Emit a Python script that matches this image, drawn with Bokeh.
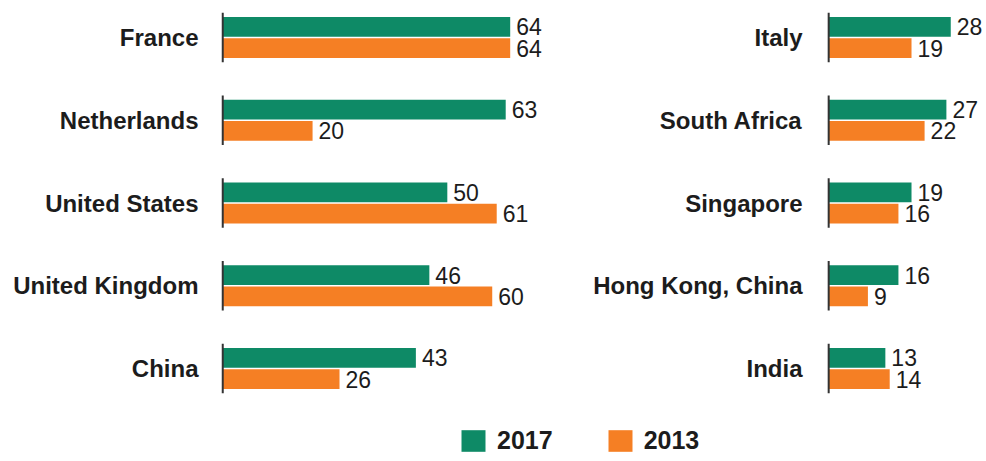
from bokeh.plotting import figure
from bokeh.models import ColumnDataSource, FactorRange, Range1d, Legend, LegendItem
from bokeh.core.properties import value
from bokeh.transform import dodge
from bokeh.layouts import column, row
from bokeh.embed import file_html
from bokeh.resources import INLINE

# ---- data ----
left_countries = ["France", "Netherlands", "United States", "United Kingdom", "China"]
left_2017 = [64, 63, 50, 46, 43]
left_2013 = [64, 20, 61, 60, 26]

right_countries = ["Italy", "South Africa", "Singapore", "Hong Kong, China", "India"]
right_2017 = [28, 27, 19, 16, 13]
right_2013 = [19, 22, 16, 9, 14]

legend_labels = ["2017", "2013"]

GREEN = "#0E8A66"
ORANGE = "#F57F24"
TEXT = "#1c1c1c"
FONT = "Liberation Sans"

OFF = 0.128
BAR_H = 0.24


def panel(countries, v17, v13, width, border_left, xmax, standoff):
    src = ColumnDataSource(dict(
        country=countries,
        v17=v17,
        v13=v13,
        t17=[str(v) for v in v17],
        t13=[str(v) for v in v13],
        zero=[0] * len(countries),
    ))
    p = figure(
        width=width, height=405,
        y_range=FactorRange(*list(reversed(countries)), range_padding=-0.0529,
                            range_padding_units="absolute"),
        x_range=Range1d(-0.5, xmax),
        output_backend="svg", toolbar_location=None,
        x_axis_location=None,
        min_border_left=border_left, min_border_right=0,
        min_border_top=0, min_border_bottom=0,
    )
    p.outline_line_color = None
    p.grid.visible = False
    p.background_fill_color = "white"
    p.border_fill_color = "white"

    p.hbar(y=dodge("country", OFF, range=p.y_range), right="v17", left=0, height=BAR_H,
           source=src, fill_color=GREEN, line_color=None)
    p.hbar(y=dodge("country", -OFF, range=p.y_range), right="v13", left=0, height=BAR_H,
           source=src, fill_color=ORANGE, line_color=None)

    p.segment(x0="zero", x1="zero",
              y0=dodge("country", 0.30, range=p.y_range),
              y1=dodge("country", -0.30, range=p.y_range),
              source=src, line_color="#333333", line_width=2)

    common = dict(source=src, x_offset=6, text_baseline="middle", text_align="left",
                  text_font_size="23px", text_color=TEXT, text_font=value(FONT))
    p.text(x="v17", y=dodge("country", OFF, range=p.y_range), text="t17", **common)
    p.text(x="v13", y=dodge("country", -OFF, range=p.y_range), text="t13", **common)

    ax = p.yaxis[0]
    ax.axis_line_color = None
    ax.major_tick_line_color = None
    ax.minor_tick_line_color = None
    ax.major_label_standoff = standoff
    ax.major_label_text_font = FONT
    ax.major_label_text_font_style = "bold"
    ax.major_label_text_font_size = "24px"
    ax.major_label_text_color = TEXT
    return p


left = panel(left_countries, left_2017, left_2013, 560, 220, 75.2, 16)
right = panel(right_countries, right_2017, right_2013, 426, 266, 36.2, 18)

# legend strip
lg = figure(width=986, height=56, output_backend="svg", toolbar_location=None,
            x_axis_location=None, y_axis_location=None,
            x_range=Range1d(0, 1), y_range=Range1d(0, 1),
            min_border_left=0, min_border_right=0, min_border_top=0, min_border_bottom=0)
lg.outline_line_color = None
lg.grid.visible = False
hidden = ColumnDataSource(dict(x=[-10], top=[-10]))
r1 = lg.vbar(x="x", top="top", bottom=-11, width=0.1, source=hidden,
             fill_color=GREEN, line_color=None)
r2 = lg.vbar(x="x", top="top", bottom=-11, width=0.1, source=hidden,
             fill_color=ORANGE, line_color=None)
legend = Legend(
    items=[LegendItem(label=legend_labels[0], renderers=[r1]),
           LegendItem(label=legend_labels[1], renderers=[r2])],
    orientation="horizontal", location=(458, 6),
    padding=0, margin=0, spacing=52,
    glyph_width=30, glyph_height=27, label_height=27, label_standoff=9,
    label_text_font=FONT, label_text_font_size="25px", label_text_font_style="bold",
    label_text_color=TEXT,
    border_line_color=None, background_fill_alpha=0,
)
lg.add_layout(legend)

layout = column(row(left, right), lg)

open("out.html", "w").write(file_html(layout, INLINE))
